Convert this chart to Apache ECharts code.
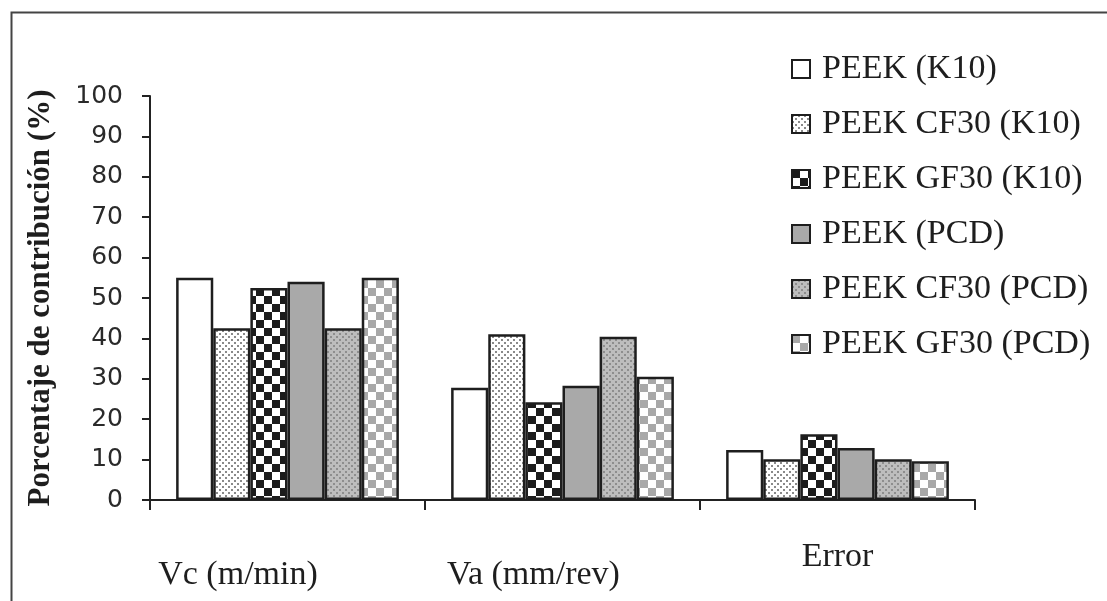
<!DOCTYPE html>
<html>
<head>
<meta charset="utf-8">
<script src="https://cdn.jsdelivr.net/npm/echarts@6/dist/echarts.min.js"></script>
<style>
html,body{margin:0;padding:0;background:#fff;}
#chart{width:1107px;height:601px;}
</style>
</head>
<body>
<div id="chart"></div>
<script>
// ---- data ----
var categories = ['Vc (m/min)', 'Va (mm/rev)', 'Error'];
var seriesNames = ['PEEK (K10)', 'PEEK CF30 (K10)', 'PEEK GF30 (K10)', 'PEEK (PCD)', 'PEEK CF30 (PCD)', 'PEEK GF30 (PCD)'];
var peekK10 = [55, 27.8, 12.4];
var peekCF30K10 = [42.5, 41, 10.1];
var peekGF30K10 = [52.5, 24.2, 16.3];
var peekPCD = [54, 28.3, 12.9];
var peekCF30PCD = [42.5, 40.4, 10.1];
var peekGF30PCD = [55, 30.5, 9.6];
var yTicks = [0, 100, 10]; // min, max, interval

// ---- patterns (style only) ----
function makeCanvas(w, h, draw) {
  var c = document.createElement('canvas');
  c.width = w; c.height = h;
  var ctx = c.getContext('2d');
  draw(ctx, w, h);
  return { image: c, repeat: 'repeat' };
}
function dots(bg, fg) {
  return makeCanvas(6, 6, function (ctx, w, h) {
    ctx.fillStyle = bg; ctx.fillRect(0, 0, w, h);
    ctx.fillStyle = fg;
    ctx.fillRect(0, 0, 2, 2);
    ctx.fillRect(3, 3, 2, 2);
  });
}
function checker(a, b, s) {
  return makeCanvas(2 * s, 2 * s, function (ctx, w, h) {
    ctx.fillStyle = b; ctx.fillRect(0, 0, w, h);
    ctx.fillStyle = a;
    ctx.fillRect(0, 0, s, s);
    ctx.fillRect(s, s, s, s);
  });
}
var fills = [
  '#ffffff',
  dots('#ffffff', '#8a8a8a'),
  checker('#1c1c1c', '#ffffff', 8),
  '#a9a9a9',
  dots('#bdbdbd', '#8e8e8e'),
  checker('#a8a8a8', '#ffffff', 8)
];
var dataSets = [peekK10, peekCF30K10, peekGF30K10, peekPCD, peekCF30PCD, peekGF30PCD];

var series = seriesNames.map(function (n, i) {
  return {
    name: n,
    type: 'bar',
    data: dataSets[i],
    barGap: '0%',
    barCategoryGap: '19%',
    itemStyle: { color: fills[i], borderColor: '#1e1e1e', borderWidth: 2.5 }
  };
});

var chart = echarts.init(document.getElementById('chart'));
chart.setOption({
  animation: false,
  backgroundColor: '#fff',
  graphic: [{
    type: 'rect', left: 9, top: 10, silent: true, z: -1,
    shape: { width: 1300, height: 800 },
    style: { fill: 'none', stroke: '#444', lineWidth: 2 }
  }],
  grid: { left: 150, right: 132, top: 96, bottom: 101 },
  legend: {
    orient: 'vertical',
    left: 786,
    top: 44,
    itemWidth: 18,
    itemHeight: 18,
    itemGap: 15,
    icon: 'rect',
    itemStyle: { borderColor: '#1e1e1e', borderWidth: 2 },
    textStyle: {
      fontFamily: 'Liberation Serif',
      fontSize: 34,
      color: '#1e1e1e',
      lineHeight: 40,
      padding: [0, 0, 0, 7]
    },
    data: seriesNames
  },
  xAxis: {
    type: 'category',
    data: categories,
    axisLine: { lineStyle: { color: '#222', width: 2 } },
    axisTick: { show: true, length: 10, lineStyle: { color: '#222', width: 2 } },
    axisLabel: {
      margin: 37,
      interval: 0,
      formatter: function (v, idx) {
        return ['{a|', '{b|', '{c|'][idx] + v + '}';
      },
      rich: {
        a: { fontFamily: 'Liberation Serif', fontSize: 34, color: '#1e1e1e', lineHeight: 40, padding: [36, 99, 0, 0] },
        b: { fontFamily: 'Liberation Serif', fontSize: 34, color: '#1e1e1e', lineHeight: 40, padding: [36, 58, 0, 0] },
        c: { fontFamily: 'Liberation Serif', fontSize: 34, color: '#1e1e1e', lineHeight: 40, padding: [0, 0, 0, 0] }
      }
    }
  },
  yAxis: {
    type: 'value',
    min: yTicks[0],
    max: yTicks[1],
    interval: yTicks[2],
    name: 'Porcentaje de contribución (%)',
    nameLocation: 'middle',
    nameRotate: 90,
    nameGap: 94,
    nameTextStyle: { fontFamily: 'Liberation Serif', fontWeight: 'bold', fontSize: 31, color: '#1e1e1e' },
    splitLine: { show: false },
    axisLine: { show: true, lineStyle: { color: '#222', width: 2 } },
    axisTick: { show: true, length: 8, lineStyle: { color: '#222', width: 2 } },
    axisLabel: { margin: 27, fontFamily: 'DejaVu Sans', fontSize: 25, color: '#2a2a2a' }
  },
  series: series
});
</script>
</body>
</html>
